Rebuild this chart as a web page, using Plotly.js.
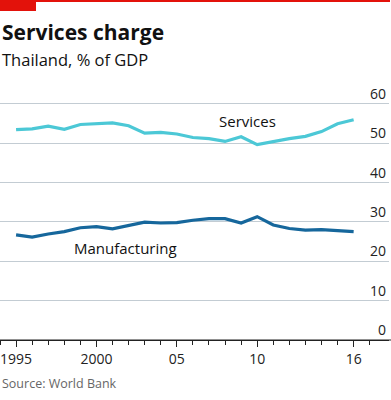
<!DOCTYPE html>
<html><head><meta charset="utf-8">
<script src="https://cdn.plot.ly/plotly-3.0.1.min.js"></script>
<style>html,body{margin:0;padding:0;background:#fff}#chart{width:391px;height:400px}</style>
</head><body><div id="chart"></div>
<script>
var years = [1995,1996,1997,1998,1999,2000,2001,2002,2003,2004,2005,2006,2007,2008,2009,2010,2011,2012,2013,2014,2015,2016];
var services = [53.4,53.6,54.3,53.5,54.7,54.8,55.1,54.4,52.5,52.7,52.3,51.4,51.1,50.4,51.6,49.6,50.4,51.1,51.7,52.9,54.9,55.9];
var manufacturing = [26.7,26.1,26.9,27.5,28.5,28.8,28.2,29.0,29.9,29.7,29.8,30.4,30.8,30.8,29.7,31.3,29.2,28.3,27.9,28.0,27.8,27.5];
var xTickVals = [1995,2000,2005,2010,2016];
var xTickText = ['1995','2000','05','10','16'];
var yTickVals = [0,10,20,30,40,50,60];

var font = "'Open Sans', 'DejaVu Sans', sans-serif";
var data = [
  {x: years, y: services, type:'scatter', mode:'lines', line:{color:'#4cc8d6', width:3.2}, hoverinfo:'skip'},
  {x: years, y: manufacturing, type:'scatter', mode:'lines', line:{color:'#16679c', width:3.2}, hoverinfo:'skip'}
];
var layout = {
  width:391, height:400,
  margin:{l:0, r:2, t:80, b:60},
  paper_bgcolor:'#fff', plot_bgcolor:'#fff',
  showlegend:false,
  font:{family:font, color:'#222'},
  xaxis:{
    range:[1994, 2018.2], tickmode:'array', tickvals:xTickVals, ticktext:xTickText,
    ticks:'outside', ticklen:6, tickcolor:'#222', tickwidth:1,
    minor:{tickmode:'linear', tick0:1995, dtick:1, ticks:'outside', ticklen:4, tickcolor:'#222', tickwidth:1, showgrid:false},
    showgrid:false, zeroline:false, showline:false,
    tickfont:{size:14, color:'#222', family:font}, fixedrange:true
  },
  yaxis:{
    range:[0,66], side:'right', tickmode:'array', tickvals:yTickVals,
    ticklabelposition:'inside top', ticks:'', showgrid:true, gridcolor:'#c3ccd3', gridwidth:1,
    zeroline:true, zerolinecolor:'#222', zerolinewidth:1, showline:false,
    tickfont:{size:14, color:'#222', family:font}, fixedrange:true
  },
  annotations:[
    {xref:'paper', yref:'paper', x:0, y:1, text:'Services charge', showarrow:false, xanchor:'left', yanchor:'bottom',
     font:{size:21, family:font, color:'#111', weight:700}, yshift:32},
    {xref:'paper', yref:'paper', x:0, y:1, text:'Thailand, % of GDP', showarrow:false, xanchor:'left', yanchor:'bottom',
     font:{size:16.5, family:font, color:'#111'}, yshift:7},
    {xref:'x', yref:'y', x:2009.4, y:55.6, text:'Services', showarrow:false, font:{size:15, family:font, color:'#111'}},
    {xref:'x', yref:'y', x:2001.8, y:23.3, text:'Manufacturing', showarrow:false, font:{size:15, family:font, color:'#111'}},
    {xref:'paper', yref:'paper', x:0, y:0, text:'Source: World Bank', showarrow:false, xanchor:'left', yanchor:'top',
     font:{size:12.5, family:font, color:'#666'}, yshift:-33}
  ],
  shapes:[
    {type:'line', xref:'paper', yref:'paper', x0:-0.01, x1:1.01, y0:0, y1:0, line:{color:'#222', width:1}}
  ]
};
Plotly.newPlot('chart', data, layout, {staticPlot:true, displayModeBar:false});
</script>
<div style="position:absolute;left:0;top:0;width:390px;height:2px;background:#e3120b"></div>
<div style="position:absolute;left:0;top:0;width:36px;height:11px;background:#e3120b"></div>
</body></html>
